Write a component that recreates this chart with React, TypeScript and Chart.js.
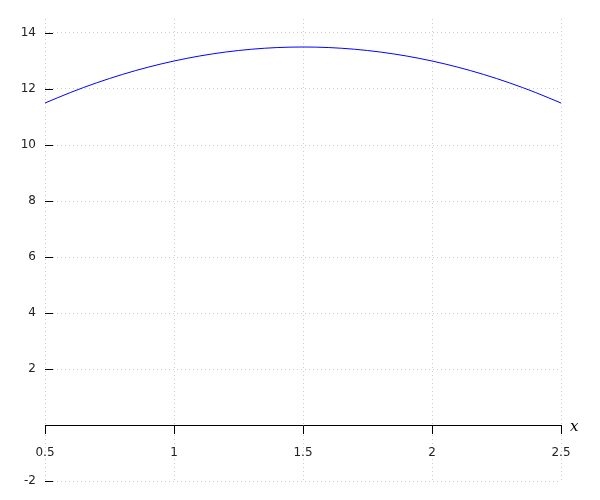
import React, { useEffect, useRef } from "react";
import { Chart, registerables } from "chart.js";

Chart.register(...registerables);

const xValues = [0.5, 0.6, 0.7, 0.8, 0.9, 1.0, 1.1, 1.2, 1.3, 1.4, 1.5, 1.6, 1.7, 1.8, 1.9, 2.0, 2.1, 2.2, 2.3, 2.4, 2.5];
const yValues = [11.5, 11.88, 12.22, 12.52, 12.78, 13.0, 13.18, 13.32, 13.42, 13.48, 13.5, 13.48, 13.42, 13.32, 13.18, 13.0, 12.78, 12.52, 12.22, 11.88, 11.5];
const xTicks = [0.5, 1, 1.5, 2, 2.5];
const yTicks = [-2, 2, 4, 6, 8, 10, 12, 14];
const xAxisLabel = "x";

const FONT = "'DejaVu Sans', sans-serif";
const GRID = "#cccccc";

const axisPlugin = {
  id: "axisPlugin",
  afterDraw(chart: any) {
    const ctx = chart.ctx;
    const y = chart.scales.y;
    const x = chart.scales.x;
    const area = chart.chartArea;
    ctx.save();
    ctx.strokeStyle = "#000";
    ctx.lineWidth = 1;
    ctx.setLineDash([]);
    for (const v of yTicks) {
      const py = Math.round(y.getPixelForValue(v)) + 0.5;
      ctx.beginPath();
      ctx.moveTo(area.left, py);
      ctx.lineTo(area.left + 8, py);
      ctx.stroke();
    }
    const y0 = y.getPixelForValue(0);
    ctx.fillStyle = "#000";
    ctx.font = "italic 15px 'DejaVu Serif', serif";
    ctx.textAlign = "left";
    ctx.textBaseline = "middle";
    ctx.fillText(xAxisLabel, x.right + 9, y0 + 2);
    ctx.restore();
  },
};

export default function App() {
  const ref = useRef<HTMLCanvasElement | null>(null);
  useEffect(() => {
    if (!ref.current) return;
    const chart = new Chart(ref.current, {
      type: "line",
      data: {
        datasets: [
          {
            data: xValues.map((xv, i) => ({ x: xv, y: yValues[i] })),
            borderColor: "#0000ff",
            borderWidth: 1,
            pointRadius: 0,
            fill: false,
            tension: 0.4,
            cubicInterpolationMode: "monotone",
          },
        ],
      },
      options: {
        animation: false,
        responsive: false,
        layout: { padding: { top: 19, bottom: 19, right: 39, left: 0 } },
        plugins: { legend: { display: false }, tooltip: { enabled: false } },
        scales: {
          x: {
            type: "linear",
            position: { y: 0 } as any,
            min: 0.5,
            max: 2.5,
            afterBuildTicks: (s: any) => {
              s.ticks = xTicks.map((v) => ({ value: v }));
            },
            grid: {
              color: GRID,
              tickColor: "#000",
              tickBorderDash: [],
              tickLength: 8,
              drawTicks: true,
            } as any,
            border: { display: true, color: "#000", width: 1, dash: [1, 3] } as any,
            ticks: {
              font: { family: FONT, size: 12 },
              color: "#222",
              padding: 13,
              maxRotation: 0,
              autoSkip: false,
              callback: (v: any) => String(v),
            },
          },
          y: {
            type: "linear",
            position: "left",
            min: -2,
            max: 14.5,
            afterBuildTicks: (s: any) => {
              s.ticks = yTicks.map((v) => ({ value: v }));
            },
            afterFit: (s: any) => {
              s.width = 45;
            },
            grid: {
              color: GRID,
              drawTicks: false,
            },
            border: { display: false, dash: [1, 3] },
            ticks: {
              font: { family: FONT, size: 12 },
              color: "#222",
              padding: 9,
              callback: (v: any) => String(v),
            },
          },
        },
      },
      plugins: [axisPlugin],
    });
    return () => chart.destroy();
  }, []);
  return (
    <div style={{ position: "fixed", left: 0, top: 0, width: 600, height: 500, background: "#fff" }}>
      <canvas ref={ref} width={600} height={500} style={{ display: "block" }} />
    </div>
  );
}
